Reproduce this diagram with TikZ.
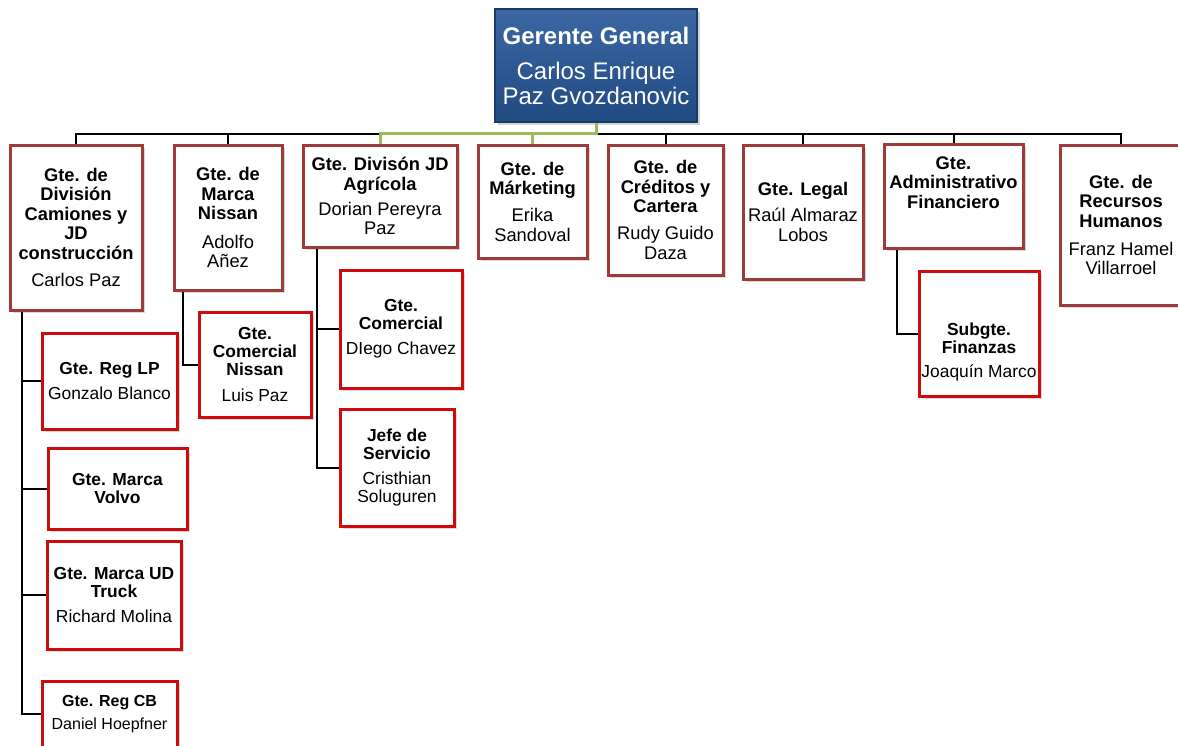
\documentclass[tikz,border=0pt]{standalone}
\usepackage{fontspec}
\setmainfont{Liberation Sans}
\usetikzlibrary{shadows}
\definecolor{onered}{RGB}{158,58,56}
\definecolor{twored}{RGB}{204,12,12}
\definecolor{ggtop}{RGB}{60,103,163}
\definecolor{ggbot}{RGB}{33,74,130}
\definecolor{ggline}{RGB}{28,58,102}
\definecolor{selgreen}{RGB}{155,187,89}
\newcommand\tl[1]{\textbf{#1}}
\tikzset{
  sz/.style 2 args={minimum width=#1pt, minimum height=#2pt},
  boxbase/.style={rectangle, fill=white, line width=3pt, inner sep=1pt, align=center,
    drop shadow={opacity=0.3, shadow xshift=2.5pt, shadow yshift=-3pt}},
  levone/.style={boxbase, draw=onered, font=\fontsize{18.3}{19.5}\selectfont},
  levtwo/.style={boxbase, draw=twored, font=\fontsize{17.4}{17.8}\selectfont},
  levsmall/.style={boxbase, draw=twored, font=\fontsize{16}{18}\selectfont},
  topbox/.style={rectangle, top color=ggtop, bottom color=ggbot, draw=ggline, line width=1.2pt,
    text=white, inner sep=1pt, align=center, font=\fontsize{24}{25}\selectfont,
    drop shadow={opacity=0.35, shadow xshift=2.5pt, shadow yshift=-3pt}},
  txtone/.style={align=center, inner sep=0pt, font=\fontsize{18.3}{19.5}\selectfont},
  txttwo/.style={align=center, inner sep=0pt, font=\fontsize{17.4}{17.8}\selectfont},
  conn/.style={draw=black, line width=2pt},
  selconn/.style={draw=selgreen, line width=3pt},
}
\begin{document}
\begin{tikzpicture}[x=1pt,y=-1pt]
\useasboundingbox (0,0) rectangle (1178,745);

% top
\node[topbox, sz={202}{113}] (gg) at (596,65.5)
  {\tl{Gerente General}\\[10pt]Carlos Enrique\\Paz Gvozdanovic};

% level one
\node[levone, sz={132}{165}] (b1) at (76,227.5)
  {\tl{Gte. de}\\\tl{División}\\\tl{Camiones y}\\\tl{JD}\\\tl{construcción}\\[8pt]Carlos Paz};
\node[levone, sz={108}{145}] (b2) at (228,217.5)
  {\tl{Gte. de}\\\tl{Marca}\\\tl{Nissan}\\[9pt]Adolfo\\Añez};
\node[levone, sz={154}{102}] (b3) at (380,196)
  {\tl{Gte. Divisón JD}\\\tl{Agrícola}\\[5.5pt]Dorian Pereyra\\Paz};
\node[levone, sz={109}{113}] (b4) at (532.5,201.5)
  {\tl{Gte. de}\\\tl{Márketing}\\[7.5pt]Erika\\Sandoval};
\node[levone, sz={115}{130}] (b5) at (665.5,210)
  {\tl{Gte. de}\\\tl{Créditos y}\\\tl{Cartera}\\[7.5pt]Rudy Guido\\Daza};
\node[levone, sz={120}{134}] (b6) at (803,212)
  {\tl{Gte. Legal}\\[6.5pt]Raúl Almaraz\\Lobos};
\node[levone, sz={139}{104}] (b7) at (953.5,196) {};
\node[txtone] (b7t) at (953.5,182.5) {\tl{Gte.}\\\tl{Administrativo}\\\tl{Financiero}};
\node[levone, sz={122}{160}] (b8) at (1121,225)
  {\tl{Gte. de}\\\tl{Recursos}\\\tl{Humanos}\\[8.5pt]Franz Hamel\\Villarroel};

% level two
\node[levtwo, sz={135}{96}] (lp) at (109.5,381)
  {\tl{Gte. Reg LP}\\[7pt]Gonzalo Blanco};
\node[levtwo, sz={139}{81}] (volvo) at (117.5,488.5)
  {\tl{Gte. Marca}\\\tl{Volvo}};
\node[levtwo, sz={134}{108}] (ud) at (114,595)
  {\tl{Gte. Marca UD}\\\tl{Truck}\\[7pt]Richard Molina};
\node[levsmall, sz={135}{66}] (cb) at (109.5,714)
  {\tl{Gte. Reg CB}\\[5pt]Daniel Hoepfner};
\node[levtwo, sz={112}{105}] (cn) at (255,364.5)
  {\tl{Gte.}\\\tl{Comercial}\\\tl{Nissan}\\[8pt]Luis Paz};
\node[levtwo, sz={122}{118}] (com) at (401,329)
  {\tl{Gte.}\\\tl{Comercial}\\[7.5pt]DIego Chavez};
\node[levtwo, sz={114}{117}] (jefe) at (397,467.5)
  {\tl{Jefe de}\\\tl{Servicio}\\[7pt]Cristhian\\Soluguren};
\node[levtwo, sz={120}{125}] (sub) at (979,333.5) {};
\node[txttwo] (subt) at (979,352) {\tl{Subgte.}\\\tl{Finanzas}\\[7pt]Joaquín Marco};

% connectors from the top
\foreach \b in {b1,b2,b5,b6,b7,b8}
  \draw[conn] (gg.south) -- ++(0,11) -| (\b.north);
\foreach \b in {b3,b4}
  \draw[selconn] (gg.south) -- ++(0,11) -| (\b.north);

% level-two connectors
\foreach \c in {lp,volvo,ud,cb}
  \draw[conn] ([xshift=13pt]b1.south west) |- (\c.west);
\draw[conn] ([xshift=10pt]b2.south west) |- (cn.west);
\foreach \c in {com,jefe}
  \draw[conn] ([xshift=15pt]b3.south west) |- (\c.west);
\draw[conn] ([xshift=14pt]b7.south west) |- (sub.west);
\end{tikzpicture}
\end{document}
